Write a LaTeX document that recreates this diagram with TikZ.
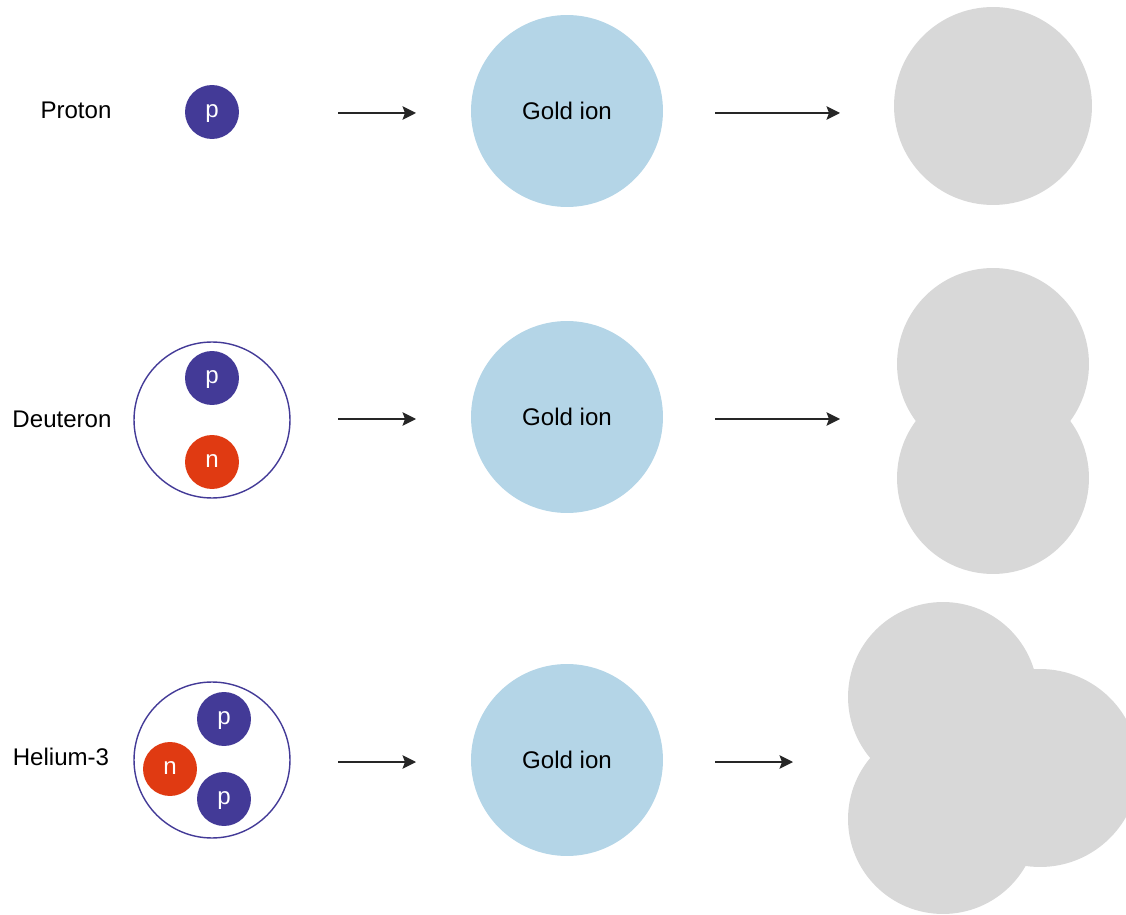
\documentclass[tikz,border=0pt]{standalone}
\usepackage{fontspec}
\setmainfont{Liberation Sans}
\usetikzlibrary{arrows.meta}
\definecolor{protonc}{HTML}{433A97}
\definecolor{neutronc}{HTML}{E03A12}
\definecolor{goldc}{HTML}{B4D5E7}
\definecolor{greyc}{HTML}{D8D8D8}
\tikzset{
  txt/.style={font=\fontsize{13.7}{16}\selectfont, inner sep=0pt},
  particle/.style={circle, minimum size=1.08cm, inner sep=0pt, text=white, text height=6.2pt, text depth=0pt, font=\fontsize{13.7}{16}\selectfont},
  proton/.style={particle, fill=protonc},
  neutron/.style={particle, fill=neutronc},
  shell/.style={circle, draw=protonc, line width=0.8pt, minimum size=3.12cm, inner sep=0pt},
  gold/.style={circle, fill=goldc, minimum size=3.84cm, inner sep=0pt, font=\fontsize{13.7}{16}\selectfont},
  product/.style={circle, fill=greyc, inner sep=0pt},
  arr/.style={-{Stealth[length=0.27cm,width=0.27cm,inset=0.05cm]}, line width=0.8pt, draw=black!85}
}
\begin{document}
\begin{tikzpicture}[x=0.02cm,y=-0.02cm]
\useasboundingbox (0,0) rectangle (1126,915);
\clip (0,0) rectangle (1126,915);

% Row 1: Proton
\node[txt] (l1) at (76,110) {Proton};
\node[proton] (p1) at (212,112) {p};
\coordinate (a1s) at (338,113);
\coordinate (a1e) at (416,113);
\draw[arr] (a1s) -- (a1e);
\node[gold] (g1) at (567,111) {Gold ion};
\coordinate (b1s) at (715,113);
\coordinate (b1e) at (840,113);
\draw[arr] (b1s) -- (b1e);
\node[product, minimum size=3.96cm] (r1) at (993,106) {};

% Row 2: Deuteron
\node[txt] (l2) at (62,419) {Deuteron};
\node[shell] (s2) at (212,420) {};
\node[proton] (p2) at (212,378) {p};
\node[neutron] (n2) at (212,462) {n};
\coordinate (a2s) at (338,419);
\coordinate (a2e) at (416,419);
\draw[arr] (a2s) -- (a2e);
\node[gold] (g2) at (567,417) {Gold ion};
\coordinate (b2s) at (715,419);
\coordinate (b2e) at (840,419);
\draw[arr] (b2s) -- (b2e);
\node[product, minimum size=3.84cm] (r2a) at (993,364) {};
\node[product, minimum size=3.84cm] (r2b) at (993,478) {};

% Row 3: Helium-3
\node[txt] (l3) at (61,757) {Helium-3};
\node[shell] (s3) at (212,760) {};
\node[proton] (p3a) at (224,719) {p};
\node[neutron] (n3) at (170,769) {n};
\node[proton] (p3b) at (224,799) {p};
\coordinate (a3s) at (338,762);
\coordinate (a3e) at (416,762);
\draw[arr] (a3s) -- (a3e);
\node[gold] (g3) at (567,760) {Gold ion};
\coordinate (b3s) at (715,762);
\coordinate (b3e) at (793,762);
\draw[arr] (b3s) -- (b3e);
\node[product, minimum size=3.96cm] (r3c) at (1040,768) {};
\node[product, minimum size=3.80cm] (r3a) at (943,697) {};
\node[product, minimum size=3.80cm] (r3b) at (943,819) {};
\end{tikzpicture}
\end{document}
